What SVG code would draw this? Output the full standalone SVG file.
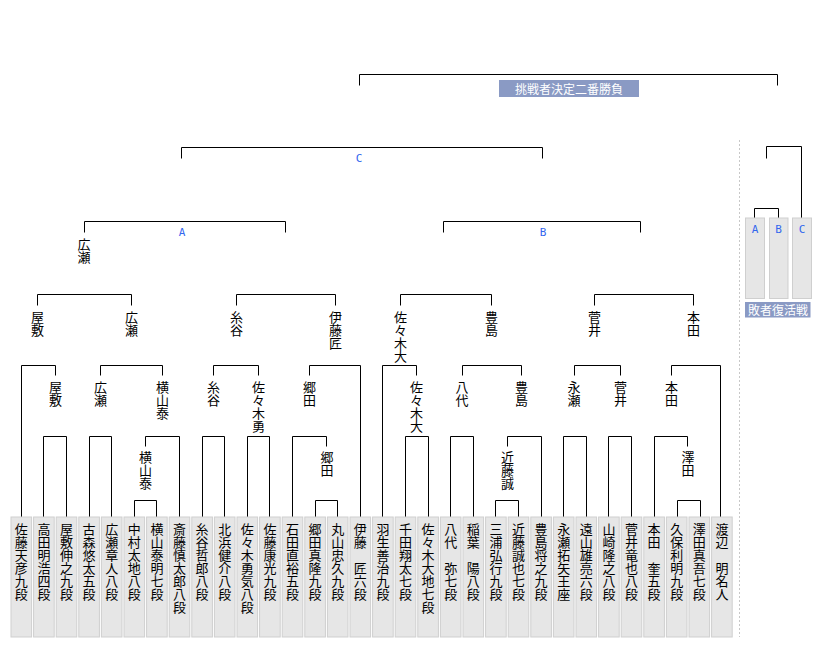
<svg xmlns="http://www.w3.org/2000/svg" width="820" height="645" viewBox="0 0 820 645">
<style>
.bg{fill:#fff}
.box{fill:#e6e6e6;stroke:#cfcfcf;stroke-width:1}
.nm{font-family:"Noto Sans CJK JP","Noto Sans CJK SC",sans-serif;font-size:13px;writing-mode:vertical-rl;fill:#000}
.ln{fill:none;stroke:#000;stroke-width:1}
.tag{fill:#8a9ac4}
.tagt{font-family:"Noto Sans CJK JP",sans-serif;font-size:12px;fill:#fff;text-anchor:middle}
.abc{font-family:"DejaVu Sans Mono","Liberation Mono",monospace;font-size:11px;fill:#3366ee;text-anchor:middle}
.sep{stroke:#c8c8c8;stroke-width:1;stroke-dasharray:2 2}
</style>
<rect class="bg" x="0" y="0" width="820" height="645"/>
<g id="connectors">
<path class="ln" d="M134.5,517V500.5H156.5V517"/>
<path class="ln" d="M145.5,446.5V436.5H179.5V517"/>
<path class="ln" d="M43.5,517V436.5H66.5V517"/>
<path class="ln" d="M89.5,517V436.5H111.5V517"/>
<path class="ln" d="M21.5,517V365.5H55.5V375.5"/>
<path class="ln" d="M100.5,375.5V365.5H162.5V375.5"/>
<path class="ln" d="M37.5,305.5V294.5H131.5V305.5"/>
<path class="ln" d="M202.5,517V436.5H224.5V517"/>
<path class="ln" d="M247.5,517V436.5H269.5V517"/>
<path class="ln" d="M213.5,375.5V365.5H258.5V375.5"/>
<path class="ln" d="M315.5,517V500.5H337.5V517"/>
<path class="ln" d="M326.5,446.5V436.5H292.5V517"/>
<path class="ln" d="M309.5,375.5V365.5H360.5V517"/>
<path class="ln" d="M236.5,305.5V294.5H335.5V305.5"/>
<path class="ln" d="M84.5,232.5V221.5H285.5V232.5"/>
<path class="ln" d="M405.5,517V436.5H428.5V517"/>
<path class="ln" d="M382.5,517V365.5H416.5V375.5"/>
<path class="ln" d="M400.5,305.5V294.5H491.5V305.5"/>
<path class="ln" d="M450.5,517V436.5H473.5V517"/>
<path class="ln" d="M495.5,517V500.5H518.5V517"/>
<path class="ln" d="M507.5,446.5V436.5H541.5V517"/>
<path class="ln" d="M462.5,375.5V365.5H521.5V375.5"/>
<path class="ln" d="M443.5,232.5V221.5H640.5V232.5"/>
<path class="ln" d="M563.5,517V436.5H586.5V517"/>
<path class="ln" d="M608.5,517V436.5H631.5V517"/>
<path class="ln" d="M574.5,375.5V365.5H620.5V375.5"/>
<path class="ln" d="M677.5,517V500.5H700.5V517"/>
<path class="ln" d="M687.5,446.5V436.5H654.5V517"/>
<path class="ln" d="M671.5,375.5V365.5H720.5V517"/>
<path class="ln" d="M594.5,305.5V294.5H693.5V305.5"/>
<path class="ln" d="M181.5,158.5V147.5H542.5V158.5"/>
<path class="ln" d="M359.5,85.5V74.5H777.5V85.5"/>
<path class="ln" d="M766.5,158.5V146.5H801.5V218"/>
<path class="ln" d="M754.5,218V208.5H778.5V218"/>
<line class="sep" x1="739.5" y1="140" x2="739.5" y2="637"/>
</g>
<g id="final">
<rect class="tag" x="499" y="80" width="140" height="17"/>
<text class="tagt" x="569" y="93.5">挑戦者決定二番勝負</text>
</g>
<g id="label-A"><text class="abc" x="182" y="236">A</text></g>
<g id="label-B"><text class="abc" x="543" y="236">B</text></g>
<g id="label-C"><text class="abc" x="359" y="162">C</text></g>
<g id="repechage">
<rect class="box" x="745.5" y="218" width="19" height="80.5"/>
<rect class="box" x="769.5" y="218" width="18.5" height="80.5"/>
<rect class="box" x="792.5" y="218" width="19" height="80.5"/>
<text class="abc" x="755" y="233">A</text>
<text class="abc" x="778.5" y="233">B</text>
<text class="abc" x="802" y="233">C</text>
<rect class="tag" x="745" y="302" width="65.5" height="15.5"/>
<text class="tagt" x="778" y="314.5">敗者復活戦</text>
</g>
<g id="winners">
<text class="nm" x="84" y="238">広瀬</text>
<text class="nm" x="37.5" y="311">屋敷</text>
<text class="nm" x="131.5" y="311">広瀬</text>
<text class="nm" x="236.5" y="311">糸谷</text>
<text class="nm" x="335.5" y="311">伊藤匠</text>
<text class="nm" x="400.5" y="311">佐々木大</text>
<text class="nm" x="491.5" y="311">豊島</text>
<text class="nm" x="594.5" y="311">菅井</text>
<text class="nm" x="693.5" y="311">本田</text>
<text class="nm" x="55.5" y="381">屋敷</text>
<text class="nm" x="100.5" y="381">広瀬</text>
<text class="nm" x="162.5" y="381">横山泰</text>
<text class="nm" x="213.5" y="381">糸谷</text>
<text class="nm" x="258.5" y="381">佐々木勇</text>
<text class="nm" x="309.5" y="381">郷田</text>
<text class="nm" x="416.5" y="381">佐々木大</text>
<text class="nm" x="462" y="381">八代</text>
<text class="nm" x="521.5" y="381">豊島</text>
<text class="nm" x="574" y="381">永瀬</text>
<text class="nm" x="620.5" y="381">菅井</text>
<text class="nm" x="671.5" y="381">本田</text>
<text class="nm" x="145.5" y="451">横山泰</text>
<text class="nm" x="327" y="451">郷田</text>
<text class="nm" x="507.5" y="451">近藤誠</text>
<text class="nm" x="688" y="451">澤田</text>
</g>
<g id="p00"><rect class="box" x="11" y="517" width="20.6" height="120"/><text class="nm" x="21.3" y="523">佐藤天彦九段</text></g>
<g id="p01"><rect class="box" x="33.6" y="517" width="20.6" height="120"/><text class="nm" x="43.9" y="523">高田明浩四段</text></g>
<g id="p02"><rect class="box" x="56.2" y="517" width="20.6" height="120"/><text class="nm" x="66.5" y="523">屋敷伸之九段</text></g>
<g id="p03"><rect class="box" x="78.8" y="517" width="20.6" height="120"/><text class="nm" x="89.1" y="523">古森悠太五段</text></g>
<g id="p04"><rect class="box" x="101.4" y="517" width="20.6" height="120"/><text class="nm" x="111.7" y="523">広瀬章人八段</text></g>
<g id="p05"><rect class="box" x="124" y="517" width="20.6" height="120"/><text class="nm" x="134.3" y="523">中村太地八段</text></g>
<g id="p06"><rect class="box" x="146.6" y="517" width="20.6" height="120"/><text class="nm" x="156.9" y="523">横山泰明七段</text></g>
<g id="p07"><rect class="box" x="169.2" y="517" width="20.6" height="120"/><text class="nm" x="179.5" y="523">斎藤慎太郎八段</text></g>
<g id="p08"><rect class="box" x="191.8" y="517" width="20.6" height="120"/><text class="nm" x="202.1" y="523">糸谷哲郎八段</text></g>
<g id="p09"><rect class="box" x="214.4" y="517" width="20.6" height="120"/><text class="nm" x="224.7" y="523">北浜健介八段</text></g>
<g id="p10"><rect class="box" x="237" y="517" width="20.6" height="120"/><text class="nm" x="247.3" y="523">佐々木勇気八段</text></g>
<g id="p11"><rect class="box" x="259.6" y="517" width="20.6" height="120"/><text class="nm" x="269.9" y="523">佐藤康光九段</text></g>
<g id="p12"><rect class="box" x="282.2" y="517" width="20.6" height="120"/><text class="nm" x="292.5" y="523">石田直裕五段</text></g>
<g id="p13"><rect class="box" x="304.8" y="517" width="20.6" height="120"/><text class="nm" x="315.1" y="523">郷田真隆九段</text></g>
<g id="p14"><rect class="box" x="327.4" y="517" width="20.6" height="120"/><text class="nm" x="337.7" y="523">丸山忠久九段</text></g>
<g id="p15"><rect class="box" x="350" y="517" width="20.6" height="120"/><text class="nm" x="360.3" y="523">伊藤　匠六段</text></g>
<g id="p16"><rect class="box" x="372.6" y="517" width="20.6" height="120"/><text class="nm" x="382.9" y="523">羽生善治九段</text></g>
<g id="p17"><rect class="box" x="395.2" y="517" width="20.6" height="120"/><text class="nm" x="405.5" y="523">千田翔太七段</text></g>
<g id="p18"><rect class="box" x="417.8" y="517" width="20.6" height="120"/><text class="nm" x="428.1" y="523">佐々木大地七段</text></g>
<g id="p19"><rect class="box" x="440.4" y="517" width="20.6" height="120"/><text class="nm" x="450.7" y="523">八代　弥七段</text></g>
<g id="p20"><rect class="box" x="463" y="517" width="20.6" height="120"/><text class="nm" x="473.3" y="523">稲葉　陽八段</text></g>
<g id="p21"><rect class="box" x="485.6" y="517" width="20.6" height="120"/><text class="nm" x="495.9" y="523">三浦弘行九段</text></g>
<g id="p22"><rect class="box" x="508.2" y="517" width="20.6" height="120"/><text class="nm" x="518.5" y="523">近藤誠也七段</text></g>
<g id="p23"><rect class="box" x="530.8" y="517" width="20.6" height="120"/><text class="nm" x="541.1" y="523">豊島将之九段</text></g>
<g id="p24"><rect class="box" x="553.4" y="517" width="20.6" height="120"/><text class="nm" x="563.7" y="523">永瀬拓矢王座</text></g>
<g id="p25"><rect class="box" x="576" y="517" width="20.6" height="120"/><text class="nm" x="586.3" y="523">遠山雄亮六段</text></g>
<g id="p26"><rect class="box" x="598.6" y="517" width="20.6" height="120"/><text class="nm" x="608.9" y="523">山崎隆之八段</text></g>
<g id="p27"><rect class="box" x="621.2" y="517" width="20.6" height="120"/><text class="nm" x="631.5" y="523">菅井竜也八段</text></g>
<g id="p28"><rect class="box" x="643.8" y="517" width="20.6" height="120"/><text class="nm" x="654.1" y="523">本田　奎五段</text></g>
<g id="p29"><rect class="box" x="666.4" y="517" width="20.6" height="120"/><text class="nm" x="676.7" y="523">久保利明九段</text></g>
<g id="p30"><rect class="box" x="689" y="517" width="20.6" height="120"/><text class="nm" x="699.3" y="523">澤田真吾七段</text></g>
<g id="p31"><rect class="box" x="711.6" y="517" width="20.6" height="120"/><text class="nm" x="721.9" y="523">渡辺　明名人</text></g>
</svg>
